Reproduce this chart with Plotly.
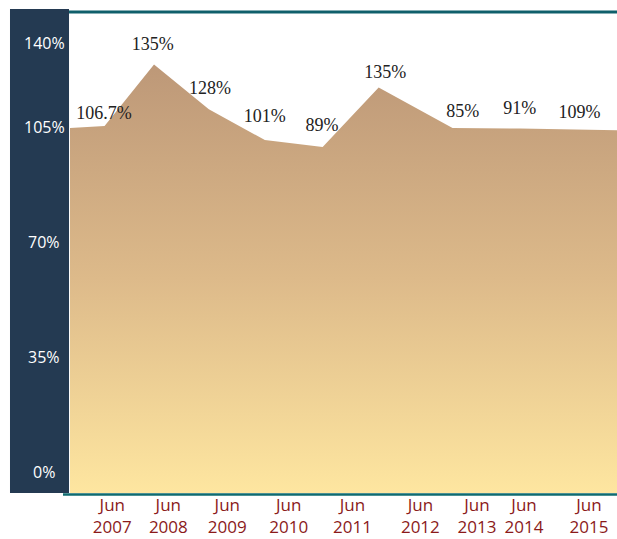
import plotly.graph_objects as go

# ---- data ----
x_vals = [2006.74, 2007.32, 2008.15, 2009.07, 2010.01, 2010.98, 2011.92, 2013.16, 2014.29, 2015.29, 2015.92]
y_vals = [104.7, 105.3, 124.0, 110.4, 101.0, 98.9, 117.0, 104.7, 104.5, 104.2, 104.0]

label_text = ["106.7%", "135%", "128%", "101%", "89%", "135%", "85%", "91%", "109%"]
label_x = [2007.31, 2008.13, 2009.09, 2010.01, 2010.97, 2012.03, 2013.33, 2014.29, 2015.29]
label_y = [108.9, 129.9, 116.5, 108.0, 105.2, 121.4, 109.5, 110.4, 109.2]

x_tick_vals = [2007.45, 2008.39, 2009.38, 2010.41, 2011.48, 2012.62, 2013.57, 2014.36, 2015.45]
x_tick_text = ["Jun<br>2007", "Jun<br>2008", "Jun<br>2009", "Jun<br>2010", "Jun<br>2011",
               "Jun<br>2012", "Jun<br>2013", "Jun<br>2014", "Jun<br>2015"]

y_tick_text = ["0%", "35%", "70%", "105%", "140%"]
y_tick_pos = [0, 35, 70, 105, 130.5]

y_floor = -6.5
y_top = 140

fig = go.Figure()

# baseline for fill
fig.add_trace(go.Scatter(
    x=[x_vals[0], x_vals[-1]], y=[y_floor, y_floor],
    mode="lines", line=dict(width=0, color="rgba(0,0,0,0)"),
    hoverinfo="skip", showlegend=False))

fig.add_trace(go.Scatter(
    x=x_vals, y=y_vals, mode="lines",
    line=dict(width=0, color="rgba(0,0,0,0)"),
    fill="tonexty",
    fillgradient=dict(type="vertical", start=y_floor, stop=max(y_vals),
                      colorscale=[[0, "#FEE6A0"], [0.5, "#DDBA8A"], [1, "#BD9878"]]),
    showlegend=False))

fig.add_trace(go.Scatter(
    x=label_x, y=label_y, mode="text", text=label_text,
    textposition="middle center",
    textfont=dict(family="Liberation Serif", size=18, color="#222222"),
    showlegend=False, hoverinfo="skip"))

annotations = []
for t, p in zip(y_tick_text, y_tick_pos):
    annotations.append(dict(
        x=-0.0475, xref="paper", y=p, yref="y", text=t, showarrow=False,
        xanchor="center", yanchor="middle",
        font=dict(family="Open Sans", size=16, color="white")))

shapes = [
    dict(type="rect", xref="paper", yref="paper", x0=-0.1097, x1=-0.0018, y0=0, y1=1.0062,
         fillcolor="#243A52", line=dict(width=0), layer="below"),
    dict(type="line", xref="paper", yref="paper", x0=-0.0018, x1=1, y0=1, y1=1,
         line=dict(color="#0F5F6B", width=3), layer="above"),
    dict(type="line", xref="paper", yref="paper", x0=-0.0128, x1=1, y0=-0.003, y1=-0.003,
         line=dict(color="#0F6B70", width=2.5), layer="above"),
]

fig.update_layout(
    width=617, height=539,
    margin=dict(l=70, r=0, t=12, b=46),
    paper_bgcolor="white", plot_bgcolor="white",
    showlegend=False,
    annotations=annotations,
    shapes=shapes,
    xaxis=dict(range=[x_vals[0], x_vals[-1]], tickmode="array", tickvals=x_tick_vals,
               ticktext=x_tick_text, showgrid=False, zeroline=False, showline=False,
               ticks="", automargin=False,
               tickfont=dict(family="Open Sans", size=17, color="#8B1A1A")),
    yaxis=dict(range=[y_floor, y_top], showticklabels=False, showgrid=False,
               zeroline=False, showline=False, ticks="", automargin=False),
)

fig.write_html("out.html", config={"displayModeBar": False},
               post_script="document.body.style.margin='0';document.body.style.overflow='hidden';")
